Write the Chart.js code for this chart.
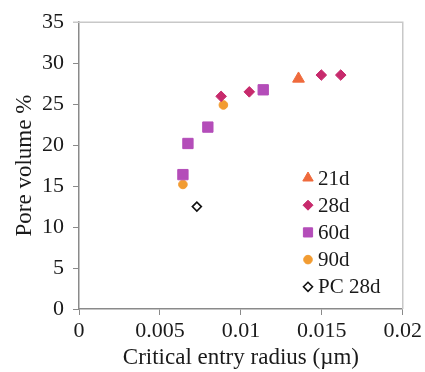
<!DOCTYPE html>
<html>
<head>
<meta charset="utf-8">
<title>Pore volume vs critical entry radius</title>
<script src="https://cdn.jsdelivr.net/npm/chart.js@4/dist/chart.umd.min.js"></script>
<style>
    html, body { margin: 0; padding: 0; background: #fff; }
    #wrap { width: 425px; height: 372px; position: relative; }
</style>
</head>
<body>
<div id="wrap"><canvas id="poreChart" width="425" height="372"></canvas></div>
<script>
// Values
var seriesNames = ['21d', '28d', '60d', '90d', 'PC 28d'];

var radius21d = [0.01356];
var pore21d = [28.1];

var radius28d = [0.00878, 0.01052, 0.01497, 0.01617];
var pore28d = [25.95, 26.5, 28.55, 28.55];

var radius60d = [0.00642, 0.00673, 0.00796, 0.01138];
var pore60d = [16.4, 20.2, 22.2, 26.75];

var radius90d = [0.00642, 0.00892];
var pore90d = [15.2, 24.9];

var radiusPC = [0.00728];
var porePC = [12.5];

var xTicks = [0, 0.005, 0.01, 0.015, 0.02];
var yTicks = [0, 5, 10, 15, 20, 25, 30, 35];

var serif = '"Liberation Serif", "DejaVu Serif", serif';

function toPoints(xs, ys) {
    return xs.map(function(x, i) { return { x: x, y: ys[i] }; });
}

// Legend drawn inside the plot area, like the original figure
var insideLegend = {
    id: 'insideLegend',
    afterDatasetsDraw: function(chart) {
        var ctx = chart.ctx;
        var startX = 308, startY = 178, step = 27.2;
        ctx.save();
        chart.data.datasets.forEach(function(ds, i) {
            var y = startY + i * step;
            ctx.fillStyle = ds.backgroundColor;
            ctx.strokeStyle = ds.borderColor;
            ctx.lineWidth = ds.borderWidth;
            Chart.helpers.drawPoint(ctx, {
                pointStyle: ds.pointStyle,
                radius: ds.legendRadius,
                borderWidth: ds.borderWidth,
                rotation: 0
            }, startX, y);
            ctx.fillStyle = '#1a1a1a';
            ctx.font = '21px ' + serif;
            ctx.textAlign = 'left';
            ctx.textBaseline = 'middle';
            ctx.fillText(ds.label, startX + 10, y + 1);
        });
        ctx.restore();
    }
};

// Light top and right frame lines
var plotFrame = {
    id: 'plotFrame',
    beforeDatasetsDraw: function(chart) {
        var a = chart.chartArea;
        var ctx = chart.ctx;
        ctx.save();
        ctx.strokeStyle = '#c8c8c8';
        ctx.lineWidth = 1.5;
        ctx.beginPath();
        ctx.moveTo(a.left - 6, a.top);
        ctx.lineTo(a.right, a.top);
        ctx.lineTo(a.right, a.bottom);
        ctx.stroke();
        ctx.restore();
    }
};

var ctx = document.getElementById('poreChart');

new Chart(ctx, {
    type: 'scatter',
    data: {
        datasets: [{
            label: seriesNames[0],
            data: toPoints(radius21d, pore21d),
            pointStyle: 'triangle',
            pointRadius: 6.8,
            legendRadius: 6,
            backgroundColor: '#ef6a3c',
            borderColor: '#ef6a3c',
            borderWidth: 1
        }, {
            label: seriesNames[1],
            data: toPoints(radius28d, pore28d),
            pointStyle: 'rectRot',
            pointRadius: 5.3,
            legendRadius: 5,
            backgroundColor: '#c72a6c',
            borderColor: '#c72a6c',
            borderWidth: 1
        }, {
            label: seriesNames[2],
            data: toPoints(radius60d, pore60d),
            pointStyle: 'rect',
            pointRadius: 7.3,
            legendRadius: 6.5,
            backgroundColor: '#b44db9',
            borderColor: '#b44db9',
            borderWidth: 1
        }, {
            label: seriesNames[3],
            data: toPoints(radius90d, pore90d),
            pointStyle: 'circle',
            pointRadius: 4.3,
            legendRadius: 4.3,
            backgroundColor: '#f29c32',
            borderColor: '#f29c32',
            borderWidth: 1
        }, {
            label: seriesNames[4],
            data: toPoints(radiusPC, porePC),
            pointStyle: 'rectRot',
            pointRadius: 4.5,
            legendRadius: 4.5,
            backgroundColor: '#ffffff',
            borderColor: '#111111',
            borderWidth: 1.6
        }]
    },
    options: {
        responsive: false,
        animation: false,
        layout: {
            padding: { top: 15, right: 21, left: 0, bottom: 0 }
        },
        plugins: {
            legend: { display: false },
            tooltip: { enabled: false }
        },
        scales: {
            x: {
                type: 'linear',
                min: 0,
                max: 0.02,
                afterFit: function(scale) { scale.height = 63; },
                afterBuildTicks: function(scale) {
                    scale.ticks = xTicks.map(function(v) { return { value: v }; });
                },
                grid: {
                    drawOnChartArea: false,
                    drawTicks: true,
                    tickLength: 6,
                    tickColor: '#8a8a8a'
                },
                border: { color: '#8a8a8a', width: 1.5 },
                ticks: {
                    color: '#1a1a1a',
                    padding: 3,
                    font: { family: serif, size: 22 },
                    callback: function(v) { return String(v); }
                },
                title: {
                    display: true,
                    text: 'Critical entry radius (µm)',
                    color: '#1a1a1a',
                    font: { family: serif, size: 23 },
                    padding: { top: 0, bottom: 0 }
                }
            },
            y: {
                type: 'linear',
                min: 0,
                max: 35,
                afterFit: function(scale) { scale.width = 79; },
                afterBuildTicks: function(scale) {
                    scale.ticks = yTicks.map(function(v) { return { value: v }; });
                },
                grid: {
                    drawOnChartArea: false,
                    drawTicks: true,
                    tickLength: 6,
                    tickColor: '#8a8a8a'
                },
                border: { color: '#8a8a8a', width: 1.5 },
                ticks: {
                    color: '#1a1a1a',
                    padding: 9,
                    font: { family: serif, size: 22 }
                },
                title: {
                    display: true,
                    text: 'Pore volume %',
                    color: '#1a1a1a',
                    font: { family: serif, size: 23 },
                    padding: { top: 11, bottom: 0 }
                }
            }
        }
    },
    plugins: [plotFrame, insideLegend]
});
</script>
</body>
</html>
